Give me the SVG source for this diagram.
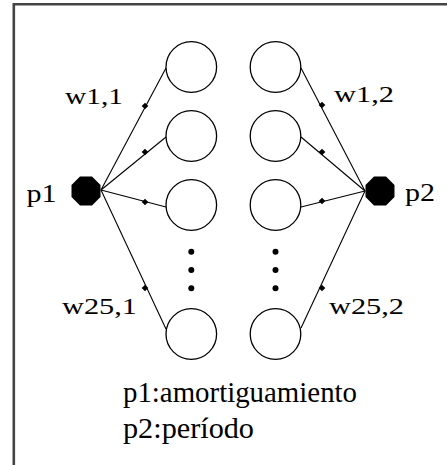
<svg xmlns="http://www.w3.org/2000/svg" width="447" height="465" viewBox="0 0 447 465">
<style>
.frame{stroke:#444;stroke-width:2.6;fill:none}
.neuron{fill:#fff;stroke:#000;stroke-width:1.3}
.conn{stroke:#000;stroke-width:1.1;fill:none}
.wdot{fill:#000}
.ell{fill:#000}
.inp{fill:#000}
text{font-family:"Liberation Serif","Times New Roman",serif;fill:#000}
.w{font-size:24px}
.p{font-size:26px}
.note{font-size:30px}
</style>
<defs>
<polygon id="oct" points="6,-14.5 14.5,-6 14.5,6 6,14.5 -6,14.5 -14.5,6 -14.5,-6 -6,-14.5"/>
<polygon id="dia" points="0,-3.3 3.3,0 0,3.3 -3.3,0"/>
</defs>
<rect width="447" height="465" fill="#fff"/>
<path class="frame" d="M13.8,465 V4.2 H447"/>
<g id="connectors">
<line class="conn" x1="101" y1="190" x2="166" y2="68"/>
<line class="conn" x1="101" y1="190" x2="166" y2="137"/>
<line class="conn" x1="101" y1="190" x2="166" y2="207"/>
<line class="conn" x1="101" y1="190" x2="166" y2="329"/>
<line class="conn" x1="365" y1="191" x2="301" y2="68"/>
<line class="conn" x1="365" y1="191" x2="301" y2="137"/>
<line class="conn" x1="365" y1="191" x2="301" y2="207"/>
<line class="conn" x1="365" y1="191" x2="301" y2="328"/>
<use href="#dia" class="wdot" x="145" y="106"/>
<use href="#dia" class="wdot" x="145" y="152"/>
<use href="#dia" class="wdot" x="145" y="202"/>
<use href="#dia" class="wdot" x="145" y="288"/>
<use href="#dia" class="wdot" x="322" y="105"/>
<use href="#dia" class="wdot" x="322" y="152"/>
<use href="#dia" class="wdot" x="322" y="201"/>
<use href="#dia" class="wdot" x="322" y="288"/>
</g>
<g id="p1"><use href="#oct" class="inp" x="86" y="191"/><text class="p" x="26.5" y="202" textLength="30" lengthAdjust="spacingAndGlyphs">p1</text></g>
<g id="p2"><use href="#oct" class="inp" x="380" y="191"/><text class="p" x="405" y="201" textLength="30" lengthAdjust="spacingAndGlyphs">p2</text></g>
<g id="n1_1"><circle class="neuron" cx="191.3" cy="67" r="25.3"/></g>
<g id="n1_2"><circle class="neuron" cx="191.3" cy="136" r="25.3"/></g>
<g id="n1_3"><circle class="neuron" cx="191.3" cy="205" r="25.3"/></g>
<g id="n1_25"><circle class="neuron" cx="191.3" cy="334" r="25.3"/></g>
<g id="n2_1"><circle class="neuron" cx="275.5" cy="67" r="25.3"/></g>
<g id="n2_2"><circle class="neuron" cx="275.5" cy="136" r="25.3"/></g>
<g id="n2_3"><circle class="neuron" cx="275.5" cy="205" r="25.3"/></g>
<g id="n2_25"><circle class="neuron" cx="275.5" cy="334" r="25.3"/></g>
<g id="ellipsis">
<circle class="ell" cx="191.3" cy="251.7" r="3"/>
<circle class="ell" cx="191.3" cy="270" r="3"/>
<circle class="ell" cx="191.3" cy="288.3" r="3"/>
<circle class="ell" cx="275.5" cy="251.7" r="3"/>
<circle class="ell" cx="275.5" cy="270" r="3"/>
<circle class="ell" cx="275.5" cy="288.3" r="3"/>
</g>
<g id="labels">
<text class="w" x="65" y="103.5" textLength="58" lengthAdjust="spacingAndGlyphs">w1,1</text>
<text class="w" x="334" y="102" textLength="60" lengthAdjust="spacingAndGlyphs">w1,2</text>
<text class="w" x="62" y="314" textLength="75" lengthAdjust="spacingAndGlyphs">w25,1</text>
<text class="w" x="329" y="313.5" textLength="75" lengthAdjust="spacingAndGlyphs">w25,2</text>
</g>
<g id="legend">
<text class="note" x="123" y="402" textLength="234" lengthAdjust="spacingAndGlyphs">p1:amortiguamiento</text>
<text class="note" x="123" y="438" textLength="131" lengthAdjust="spacingAndGlyphs">p2:período</text>
</g>
</svg>
